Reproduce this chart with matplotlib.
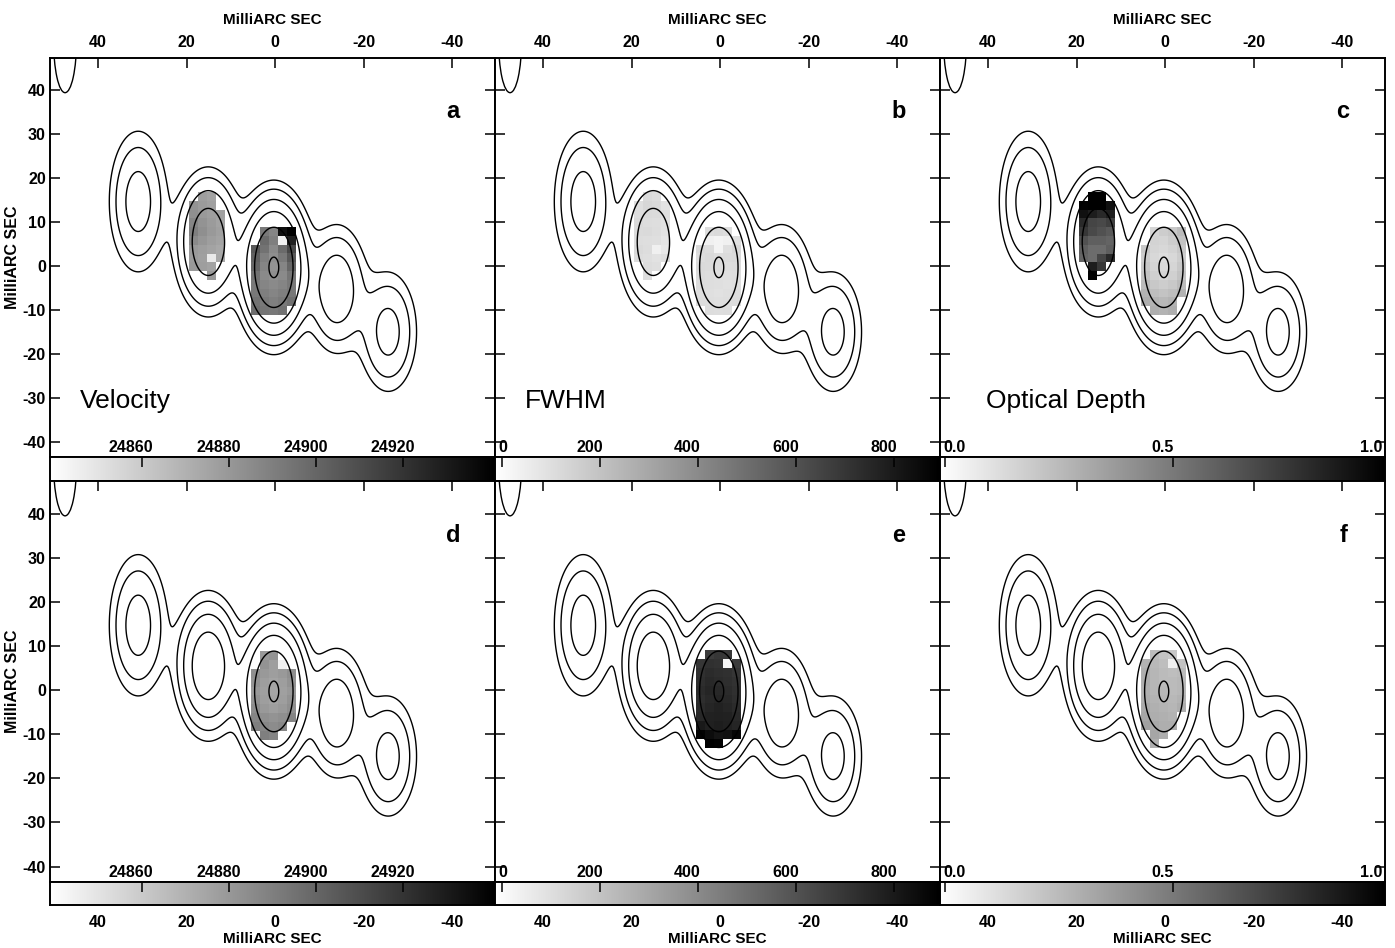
import numpy as np
import matplotlib
matplotlib.use('Agg')
import matplotlib.pyplot as plt
from matplotlib import transforms
from matplotlib.patches import Ellipse

plt.rcParams['font.family'] = ['Liberation Sans', 'DejaVu Sans']
plt.rcParams['font.weight'] = 'bold'
plt.rcParams['axes.labelweight'] = 'bold'
plt.rcParams['axes.unicode_minus'] = False

# continuum source: gaussian components (mas)
comp_x = [30.9, 15.1, 0.3, -13.9, -25.5]
comp_y = [14.7, 5.5, -0.3, -5.2, -15.0]
comp_peak = [0.68, 1.68, 4.2, 0.84, 0.64]
comp_sx = [3.54, 3.54, 3.54, 3.54, 3.54]
comp_sy = [8.7, 7.5, 7.5, 7.5, 7.5]
levels = [0.125, 0.25, 0.5, 1.0, 2.0, 4.0]

# pixel maps (2 mas pixels, rows top->bottom, columns east->west)
pix = 2.0
c2_corner = (19.5, 16.8)
core_corner = (5.5, 8.8)
nan = np.nan

vel_c2 = [
    [nan, 24878, 24876, nan],
    [24882, 24879, 24877, nan],
    [24884, 24880, 24878, 24877],
    [24888, 24882, 24879, 24876],
    [24890, 24884, 24880, 24877],
    [24886, 24881, 24878, 24876],
    [24880, 24878, 24876, 24874],
    [24879, 24877, 24848, 24874],
    [24880, 24878, 24876, nan],
    [nan, nan, 24880, nan],
]
vel_core = [
    [nan, 24892, 24888, 24935, 24940],
    [nan, 24898, 24890, 24845, 24928],
    [24905, 24895, 24886, 24898, 24912],
    [24902, 24890, 24884, 24892, 24905],
    [24900, 24888, 24882, 24888, 24900],
    [24895, 24886, 24884, 24886, 24894],
    [24892, 24888, 24886, 24888, 24892],
    [24893, 24890, 24888, 24890, 24893],
    [24895, 24892, 24890, 24892, 24896],
    [24897, 24894, 24893, 24895, nan],
]
fwhm_c2 = [
    [nan, 120, 110, nan],
    [100, 130, 120, 90],
    [110, 120, 115, 100],
    [120, 110, 105, 95],
    [115, 120, 110, 90],
    [110, 105, 100, 80],
    [120, 110, 40, 70],
    [110, 100, 90, 100],
    [nan, 110, 100, nan],
    [nan, 110, nan, nan],
]
fwhm_core = [
    [nan, 110, 120, 110, nan],
    [nan, 40, 30, 40, 100],
    [120, 110, 30, 100, 130],
    [110, 120, 110, 115, 120],
    [120, 115, 110, 105, 110],
    [115, 110, 100, 100, 105],
    [110, 105, 100, 95, 100],
    [105, 100, 95, 100, 105],
    [110, 105, 100, 105, 110],
    [nan, 110, 105, 110, nan],
]
tau_c2 = [
    [nan, 1.0, 1.0, nan],
    [0.95, 1.0, 0.98, 0.9],
    [0.9, 0.85, 0.8, 0.85],
    [0.8, 0.7, 0.68, 0.72],
    [0.75, 0.68, 0.65, 0.62],
    [0.65, 0.6, 0.6, 0.58],
    [0.6, 0.55, 0.55, 0.6],
    [0.58, 0.55, 0.7, 0.8],
    [nan, 0.85, 0.75, nan],
    [nan, 0.95, nan, nan],
]
tau_core = [
    [nan, 0.15, 0.18, 0.2, 0.25],
    [nan, 0.16, 0.15, 0.18, 0.22],
    [0.2, 0.15, 0.14, 0.16, 0.2],
    [0.18, 0.14, 0.12, 0.14, 0.18],
    [0.2, 0.15, 0.13, 0.15, 0.2],
    [0.22, 0.17, 0.15, 0.17, 0.22],
    [0.25, 0.2, 0.18, 0.2, 0.25],
    [0.28, 0.24, 0.22, 0.24, 0.28],
    [0.3, 0.28, 0.26, 0.28, nan],
    [nan, 0.3, 0.28, 0.3, nan],
]
vel_core_d = [
    [nan, 24880, 24882, nan, nan],
    [nan, 24882, 24878, 24845, nan],
    [24884, 24880, 24878, 24880, 24884],
    [24882, 24878, 24876, 24878, 24882],
    [24880, 24877, 24875, 24877, 24880],
    [24882, 24878, 24876, 24878, 24882],
    [24885, 24880, 24878, 24880, 24884],
    [24888, 24884, 24882, 24884, 24888],
    [24890, 24887, 24885, 24887, nan],
    [nan, 24890, 24888, nan, nan],
]
fwhm_core_e = [
    [nan, 680, 700, 690, nan],
    [700, 720, 710, 20, 680],
    [720, 740, 730, 720, 700],
    [730, 750, 740, 730, 710],
    [740, 760, 750, 740, 720],
    [730, 750, 760, 750, 730],
    [740, 760, 770, 760, 740],
    [750, 770, 780, 770, 750],
    [800, 780, 790, 780, 760],
    [880, 850, 820, 830, 870],
    [nan, 900, 880, nan, nan],
]
tau_core_f = [
    [nan, 0.25, 0.22, 0.2, nan],
    [0.28, 0.26, 0.24, 0.05, 0.22],
    [0.3, 0.27, 0.25, 0.24, 0.25],
    [0.3, 0.27, 0.25, 0.25, 0.26],
    [0.29, 0.27, 0.26, 0.25, 0.26],
    [0.3, 0.28, 0.27, 0.26, 0.28],
    [0.32, 0.29, 0.28, 0.27, 0.3],
    [0.33, 0.3, 0.29, 0.28, nan],
    [0.35, 0.32, 0.3, 0.3, nan],
    [nan, 0.33, 0.3, nan, nan],
    [nan, 0.3, nan, nan, nan],
]

vel_range = (24839, 24941)
fwhm_range = (-14, 894)
tau_range = (-0.011, 0.963)
vel_ticks = [24860, 24880, 24900, 24920]
vel_labels = ['24860', '24880', '24900', '24920']
fwhm_ticks = [0, 200, 400, 600, 800]
fwhm_labels = ['0', '200', '400', '600', '800']
tau_ticks = [0.0, 0.5, 1.0]
tau_labels = ['0.0', '0.5', '1.0']

panels = [
    ('a', 'Velocity', [(vel_c2, c2_corner), (vel_core, core_corner)], vel_range, vel_ticks, vel_labels),
    ('b', 'FWHM', [(fwhm_c2, c2_corner), (fwhm_core, core_corner)], fwhm_range, fwhm_ticks, fwhm_labels),
    ('c', 'Optical Depth', [(tau_c2, c2_corner), (tau_core, core_corner)], tau_range, tau_ticks, tau_labels),
    ('d', None, [(vel_core_d, core_corner)], vel_range, vel_ticks, vel_labels),
    ('e', None, [(fwhm_core_e, core_corner)], fwhm_range, fwhm_ticks, fwhm_labels),
    ('f', None, [(tau_core_f, core_corner)], tau_range, tau_ticks, tau_labels),
]

# contour map
gx = np.linspace(-50, 51, 405)
gy = np.linspace(-44, 48, 369)
X, Y = np.meshgrid(gx, gy)
Z = np.zeros_like(X)
for x0, y0, p, sx, sy in zip(comp_x, comp_y, comp_peak, comp_sx, comp_sy):
    Z += p * np.exp(-((X - x0) ** 2 / (2 * sx ** 2) + (Y - y0) ** 2 / (2 * sy ** 2)))

W, H = 1395.0, 948.0
fig = plt.figure(figsize=(W / 100, H / 100), dpi=100)
col_left = [50, 495, 940]
col_w = 445
row_top = [58, 481]
row_h = [399, 401]
cb_h = [24, 23]
wedge_texts = []

for i, (letter, name, patches, crange, cticks, clabels) in enumerate(panels):
    r, c = divmod(i, 3)
    l, t, h = col_left[c], row_top[r], row_h[r]
    ax = fig.add_axes([l / W, 1 - (t + h) / H, col_w / W, h / H])
    cax = fig.add_axes([l / W, 1 - (t + h + cb_h[r]) / H, col_w / W, cb_h[r] / H])

    for grid, (xl, yt) in patches:
        arr = np.ma.masked_invalid(np.array(grid, dtype=float))
        nr, nc = arr.shape
        ax.imshow(arr, cmap='gray_r', vmin=crange[0], vmax=crange[1],
                  extent=[xl, xl - nc * pix, yt - nr * pix, yt],
                  interpolation='nearest', aspect='auto', zorder=1)
    ax.contour(X, Y, Z, levels=levels, colors='k', linewidths=1.0, zorder=2)
    ax.add_patch(Ellipse((47.4, 51.5), 5.2, 24, fill=False, lw=1.0, color='k'))

    ax.set_xlim(50.8, -49.6)
    ax.set_ylim(-43.5, 47.4)
    ax.set_xticks([40, 20, 0, -20, -40])
    ax.set_yticks(range(-40, 41, 10))
    ax.tick_params(direction='in', length=7.2, width=1.1, top=True, bottom=False,
                   left=True, right=True, labelsize=11.5, labelleft=(c == 0),
                   labeltop=(r == 0), labelbottom=(r == 1))
    ax.tick_params(axis='y', pad=3)
    ax.tick_params(axis='x', pad=5.5 if r == 0 else 24)
    for s in ax.spines.values():
        s.set_linewidth(1.4)
    if r == 0:
        ax.xaxis.set_label_position('top')
        ax.set_xlabel('MilliARC SEC', fontsize=11, labelpad=8)
    else:
        ax.set_xlabel('MilliARC SEC', fontsize=11, labelpad=1)
    if c == 0:
        ax.set_ylabel('MilliARC SEC', fontsize=11.5, labelpad=2)

    ax.text(0.906, 0.865, letter, transform=ax.transAxes, ha='center', va='center',
            fontsize=17, fontweight='bold')
    if name:
        ax.text(0.067 if c < 2 else 0.103, 0.123, name, transform=ax.transAxes,
                ha='left', va='baseline', fontsize=19, fontweight='normal')

    # colour wedge
    cax.imshow(np.linspace(crange[0], crange[1], 256)[None, :], cmap='gray_r',
               vmin=crange[0], vmax=crange[1], aspect='auto',
               extent=[crange[0], crange[1], 0, 1])
    cax.set_yticks([])
    cax.set_xticks(cticks)
    cax.set_xlim(crange)
    cax.tick_params(axis='x', direction='in', top=True, bottom=False, labeltop=False,
                    labelbottom=False, length=7.2, width=1.1)
    for s in cax.spines.values():
        s.set_linewidth(1.4)
    # wedge labels sit a little left of their ticks, as in the original
    base = transforms.blended_transform_factory(cax.transData, cax.transAxes)
    trans = transforms.offset_copy(base, fig=fig, x=-10.5, y=5, units='dots')
    for v, s in zip(cticks, clabels):
        txt = cax.text(v, 1, s, transform=trans, ha='center', va='baseline',
                       fontsize=11.5, fontweight='bold')
        wedge_texts.append((cax, txt))

# keep wedge labels inside their panel
fig.canvas.draw()
rend = fig.canvas.get_renderer()
for cax, txt in wedge_texts:
    bb = txt.get_window_extent(rend)
    box = cax.get_window_extent(rend)
    shift = 0.0
    if bb.x0 < box.x0 + 3:
        shift = box.x0 + 3 - bb.x0
    elif bb.x1 > box.x1 - 3:
        shift = box.x1 - 3 - bb.x1
    if shift:
        lo, hi = cax.get_xlim()
        txt.set_x(txt.get_position()[0] + shift * (hi - lo) / box.width)

fig.savefig('out.png', dpi=100)
